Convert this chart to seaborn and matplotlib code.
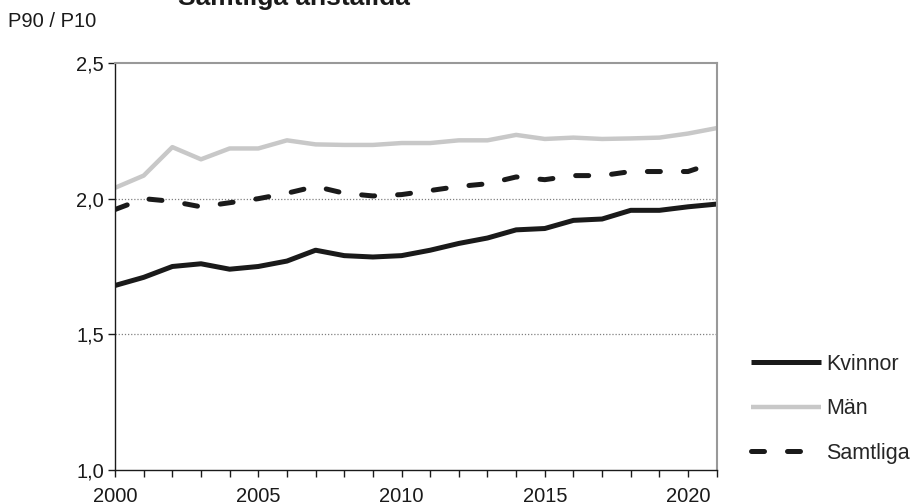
import pandas as pd
import numpy as np
import seaborn as sns
import matplotlib.pyplot as plt
from matplotlib.ticker import FixedLocator, FuncFormatter

years = list(range(2000, 2022))
kvinnor = [1.68, 1.71, 1.75, 1.76, 1.74, 1.75, 1.77, 1.81, 1.79, 1.785, 1.79,
           1.81, 1.835, 1.855, 1.885, 1.89, 1.92, 1.925, 1.957, 1.957, 1.97, 1.98]
man = [2.04, 2.085, 2.19, 2.145, 2.185, 2.185, 2.215, 2.2, 2.198, 2.198, 2.205,
       2.205, 2.215, 2.215, 2.235, 2.22, 2.225, 2.22, 2.222, 2.225, 2.24, 2.26]
samtliga = [1.96, 2.0, 1.99, 1.97, 1.985, 2.0, 2.02, 2.045, 2.02, 2.01, 2.015,
            2.03, 2.045, 2.055, 2.08, 2.07, 2.085, 2.085, 2.1, 2.1, 2.1, 2.135]

df = pd.DataFrame({'År': years, 'Kvinnor': kvinnor, 'Män': man, 'Samtliga': samtliga})

sns.set_style('white')
plt.rcParams['font.family'] = ['Liberation Sans', 'DejaVu Sans']

fig = plt.figure(figsize=(9.13, 5.04), dpi=100)
ax = fig.add_axes([0.126, 0.0675, 0.659, 0.8075])

sns.lineplot(data=df, x='År', y='Kvinnor', ax=ax, color='#1a1a1a', linewidth=3.6,
             label='Kvinnor', solid_capstyle='butt')
sns.lineplot(data=df, x='År', y='Män', ax=ax, color='#c8c8c8', linewidth=3.2,
             label='Män', solid_capstyle='butt')
sns.lineplot(data=df, x='År', y='Samtliga', ax=ax, color='#1a1a1a', linewidth=3.6,
             label='Samtliga', dash_capstyle='round')
ax.lines[2].set_dashes((2.6, 4.6))

ax.set_xlim(2000, 2021)
ax.set_ylim(1.0, 2.5)
ax.set_xlabel('')
ax.set_ylabel('')

ax.yaxis.set_major_locator(FixedLocator([1.0, 1.5, 2.0, 2.5]))
ax.yaxis.set_major_formatter(FuncFormatter(lambda v, p: f'{v:.1f}'.replace('.', ',')))
ax.xaxis.set_major_locator(FixedLocator([2000, 2005, 2010, 2015, 2020]))
ax.xaxis.set_minor_locator(FixedLocator(years))
ax.tick_params(axis='both', which='both', direction='out', length=5, width=1,
               color='#1a1a1a', labelsize=14.5, labelcolor='#1a1a1a')
ax.tick_params(axis='x', which='both', bottom=True, pad=7)
ax.tick_params(axis='y', which='both', left=True, pad=3)

for y in [1.5, 2.0]:
    ax.axhline(y, color='#808080', linestyle=(0, (1, 1.5)), linewidth=0.9, zorder=0)

for s in ['left', 'bottom']:
    ax.spines[s].set_color('#1a1a1a')
    ax.spines[s].set_linewidth(1)
for s in ['top', 'right']:
    ax.spines[s].set_color('#999999')
    ax.spines[s].set_linewidth(1.5)

ax.legend(loc='center left', bbox_to_anchor=(0.813, 0.189), bbox_transform=fig.transFigure,
          frameon=False, fontsize=15.5, handlelength=3.25, handletextpad=0.25,
          labelspacing=1.1, borderaxespad=0)

fig.text(0.009, 0.958, 'P90 / P10', fontsize=14.5, color='#1a1a1a', va='center', ha='left')
fig.text(0.195, 0.99, 'Samtliga anställda', fontsize=19, fontweight='bold',
         color='#1a1a1a', va='baseline', ha='left')

fig.savefig('out.png', dpi=100)
